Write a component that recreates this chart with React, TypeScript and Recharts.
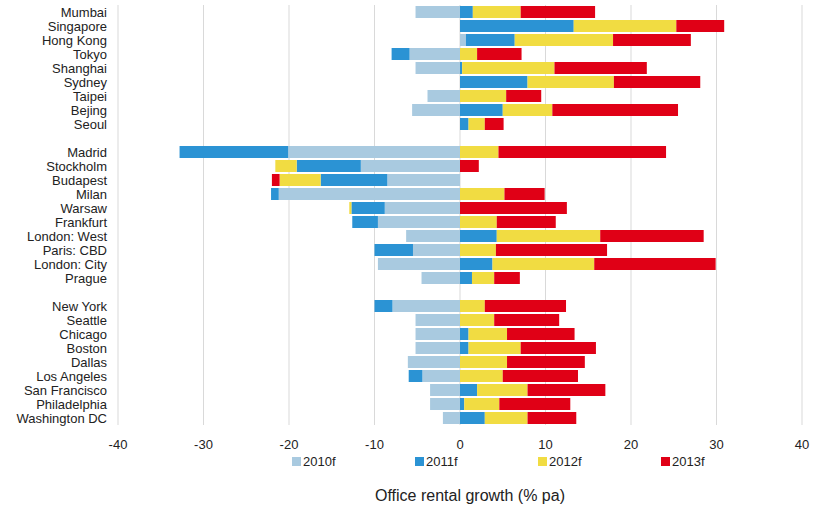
import { BarChart, Bar, XAxis, YAxis, CartesianGrid } from 'recharts'

// city rows, blank strings act as spacers between regions
const cities = [
    'Mumbai', 'Singapore', 'Hong Kong', 'Tokyo', 'Shanghai', 'Sydney', 'Taipei', 'Bejing', 'Seoul',
    ' ',
    'Madrid', 'Stockholm', 'Budapest', 'Milan', 'Warsaw', 'Frankfurt', 'London: West', 'Paris: CBD', 'London: City', 'Prague',
    '  ',
    'New York', 'Seattle', 'Chicago', 'Boston', 'Dallas', 'Los Angeles', 'San Francisco', 'Philadelphia', 'Washington DC',
]

const g2010 = [
    -5.2, 0, 0.7, -5.9, -5.2, 0, -3.8, -5.6, 0,
    0,
    -20.1, -11.6, -8.5, -21.2, -8.8, -9.6, -6.3, -5.5, -9.6, -4.5,
    0,
    -7.9, -5.2, -5.2, -5.2, -6.1, -4.4, -3.5, -3.5, -2.0,
]
const g2011 = [
    1.5, 13.3, 5.7, -2.1, 0.25, 7.9, 0, 5.0, 1.0,
    0,
    -12.7, -7.5, -7.8, -0.9, -3.9, -3.0, 4.3, -4.5, 3.8, 1.4,
    0,
    -2.1, 0, 1.0, 1.0, 0, -1.6, 2.0, 0.5, 2.9,
]
const g2012 = [
    5.6, 12.0, 11.5, 2.0, 10.8, 10.1, 5.4, 5.8, 1.9,
    0,
    4.5, -2.5, -4.8, 5.2, -0.25, 4.3, 12.1, 4.2, 11.9, 2.6,
    0,
    2.9, 4.0, 4.5, 6.1, 5.5, 5.0, 5.9, 4.1, 5.0,
]
const g2013 = [
    8.7, 5.6, 9.1, 5.2, 10.8, 10.1, 4.1, 14.7, 2.2,
    0,
    19.6, 2.2, -0.9, 4.7, 12.5, 6.9, 12.1, 13.0, 14.2, 3.0,
    0,
    9.5, 7.6, 7.9, 8.8, 9.1, 8.8, 9.1, 8.3, 5.7,
]

const xTicks = [-40, -30, -20, -10, 0, 10, 20, 30, 40]

const series = [
    { key: 'y2010', name: '2010f', color: '#a9cae0' },
    { key: 'y2011', name: '2011f', color: '#2b93d4' },
    { key: 'y2012', name: '2012f', color: '#f1dc42' },
    { key: 'y2013', name: '2013f', color: '#e00016' },
]

const data = cities.map((city, i) => ({
    city,
    y2010: g2010[i],
    y2011: g2011[i],
    y2012: g2012[i],
    y2013: g2013[i],
}))

const FONT = '"Liberation Sans", Arial, sans-serif'

function LegendRow() {
    return (
        <div
            style={{
                position: 'absolute',
                left: 292,
                top: 454,
                display: 'flex',
                fontFamily: FONT,
                fontSize: 13,
                color: '#222',
            }}
        >
            {series.map(s => (
                <div key={s.key} style={{ width: 123, display: 'flex', alignItems: 'center' }}>
                    <span style={{ width: 9, height: 9, background: s.color, marginRight: 2, display: 'inline-block' }} />
                    {s.name}
                </div>
            ))}
        </div>
    )
}

export default function App() {
    return (
        <div style={{ position: 'absolute', left: 0, top: 0, width: 814, height: 508, background: '#fff' }}>
            <BarChart
                width={814}
                height={508}
                data={data}
                layout="vertical"
                stackOffset="sign"
                barCategoryGap={1}
                margin={{ top: 5, right: 12, left: 0, bottom: 58 }}
            >
                <CartesianGrid horizontal={false} stroke="#d9d9d9" />
                <XAxis
                    type="number"
                    domain={[-40, 40]}
                    ticks={xTicks}
                    axisLine={false}
                    tickLine={false}
                    height={25}
                    tickMargin={9}
                    tick={{ fill: '#222', fontSize: 13, fontFamily: FONT }}
                />
                <YAxis
                    type="category"
                    dataKey="city"
                    width={118}
                    axisLine={false}
                    tickLine={false}
                    interval={0}
                    tick={{ fill: '#222', fontSize: 13, fontFamily: FONT }}
                    tickMargin={5}
                />
                {series.map(s => (
                    <Bar
                        key={s.key}
                        dataKey={s.key}
                        name={s.name}
                        stackId="a"
                        fill={s.color}
                        isAnimationActive={false}
                    />
                ))}
            </BarChart>
            <LegendRow />
            <div
                style={{
                    position: 'absolute',
                    left: 0,
                    top: 487,
                    width: 940,
                    textAlign: 'center',
                    fontFamily: FONT,
                    fontSize: 16,
                    color: '#222',
                }}
            >
                Office rental growth (% pa)
            </div>
        </div>
    )
}
